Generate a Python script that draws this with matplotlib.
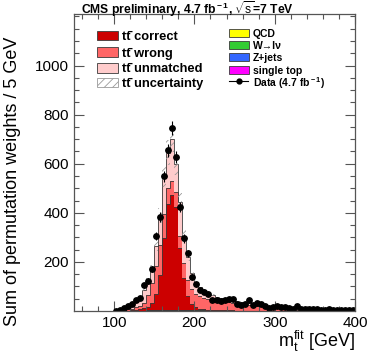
import numpy as np
import matplotlib
matplotlib.use("Agg")
import matplotlib.pyplot as plt
from matplotlib.patches import Rectangle
from matplotlib.lines import Line2D

plt.rcParams['font.family'] = ['Liberation Sans', 'DejaVu Sans']
plt.rcParams['mathtext.fontset'] = 'custom'
plt.rcParams['mathtext.rm'] = 'Liberation Sans'
plt.rcParams['mathtext.it'] = 'Liberation Sans:italic'
plt.rcParams['mathtext.bf'] = 'Liberation Sans:bold'
plt.rcParams['hatch.linewidth'] = 0.6

# 5 GeV bins from 100 to 400 GeV
edges = np.arange(100, 401, 5)

data = [2, 4, 11, 20, 27, 44, 55, 104, 122, 172,
        306, 384, 548, 654, 746, 627, 425, 296, 235, 138,
        108, 86, 79, 68, 46, 43, 42, 45, 48, 50,
        30, 25, 28, 43, 23, 31, 30, 22, 12, 18,
        20, 18, 15, 14, 9, 22, 8, 9, 8, 7,
        7, 6, 5, 7, 5, 4, 6, 4, 3, 4]

tt_correct = [0, 0.5, 1, 1.5, 2, 3, 5, 9, 15, 28,
              65, 140, 290, 430, 466, 420, 250, 130, 55, 25,
              12, 7, 5, 4, 3, 2, 2, 2, 1.5, 1.5,
              1, 1, 1, 1, 1, 1, 0.5, 0.5, 0.5, 0.5,
              0.5, 0.5, 0.5, 0.5, 0.5, 0.5, 0.5, 0.5, 0.5, 0.5,
              0.5, 0.5, 0.5, 0.5, 0.5, 0.5, 0.5, 0.5, 0.5, 0.5]

tt_wrong = [1, 1.5, 3, 4.5, 7, 10, 13, 21, 45, 82,
            115, 125, 100, 64, 56, 60, 50, 60, 65, 61,
            54, 51, 47, 43, 41, 39, 37, 35, 33.5, 31.5,
            30, 28, 26, 24, 22, 20, 18.5, 16.5, 15.5, 13.5,
            11.5, 9.5, 8.5, 7.5, 6.5, 5.5, 4.5, 3.5, 3, 2.5,
            2, 1.5, 1.5, 1, 1, 0.5, 0.5, 0.5, 0.5, 0.5]

tt_unmatched = [1, 2, 4, 8, 13, 21, 34, 55, 60, 60,
                80, 120, 155, 146, 174, 115, 140, 110, 95, 64,
                49, 37, 30, 25, 20, 17, 14, 13, 12, 11,
                10, 9, 8, 8, 7, 7, 7, 7, 6, 6,
                6, 6, 6, 5, 5, 5, 5, 5, 4.5, 5,
                4.5, 4.5, 4, 4, 3.5, 4, 3.5, 3, 3, 2.5]

single_top = [0, 0, 0, 0.5, 0.5, 1, 1, 1.5, 2, 2.5,
              3, 3, 3.5, 3.5, 3.5, 3, 3, 2.5, 2, 1.5,
              1.5, 1, 1, 1, 1, 0.5, 0.5, 0.5, 0.5, 0.5,
              0, 0, 0, 0, 0, 0, 0, 0, 0, 0,
              0, 0, 0, 0, 0, 0, 0, 0, 0, 0,
              0, 0, 0, 0, 0, 0, 0, 0, 0, 0]

z_jets = [0, 0, 0, 0, 0, 0, 0, 0, 0.3, 0.3,
          0.5, 0.5, 0.5, 0.5, 0.5, 0.5, 0.5, 0.5, 0.5, 0.5,
          0.3, 0.3, 0.3, 0, 0, 0, 0, 0, 0, 0,
          0, 0, 0, 0, 0, 0, 0, 0, 0, 0,
          0, 0, 0, 0, 0, 0, 0, 0, 0, 0,
          0, 0, 0, 0, 0, 0, 0, 0, 0, 0]

w_jets = [0, 0, 0, 0, 0, 0.5, 0.5, 0.5, 1, 1,
          1, 1.5, 1.5, 1.5, 2, 2, 2, 2, 2.5, 2.5,
          2, 1.5, 1, 1, 1, 0.5, 0.5, 0.5, 0.5, 0.5,
          0, 0, 0, 0, 0, 0, 0, 0, 0, 0,
          0, 0, 0, 0, 0, 0, 0, 0, 0, 0,
          0, 0, 0, 0, 0, 0, 0, 0, 0, 0]

qcd = [0] * 60

uncertainty = [0.3, 0.5, 1, 1.5, 2, 3, 4, 7, 10, 14,
               21, 31, 44, 51, 56, 48, 35, 24, 17, 12,
               9, 8, 7, 6, 5, 5, 4.5, 4, 4, 3.5,
               3.5, 3, 3, 2.5, 2.5, 2.5, 2, 2, 2, 1.5,
               1.5, 1.5, 1.2, 1.1, 1, 1, 0.8, 0.8, 0.7, 0.7,
               0.6, 0.5, 0.5, 0.5, 0.4, 0.4, 0.4, 0.3, 0.3, 0.3]

c_correct = '#cc0000'
c_wrong = '#ff6666'
c_unmatched = '#ffcccc'
c_qcd = '#ffff00'
c_w = '#33cc33'
c_z = '#3366ff'
c_st = '#ff00ff'
outline = '#3a3a3a'
hatch_col = '#9a9a9a'

W, H = 374, 359
fig = plt.figure(figsize=(W / 100, H / 100), dpi=100)
ax = fig.add_axes([74 / W, 48 / H, 281 / W, 297 / H])

layers = [(single_top, c_st), (z_jets, c_z), (w_jets, c_w), (qcd, c_qcd),
          (tt_correct, c_correct), (tt_wrong, c_wrong), (tt_unmatched, c_unmatched)]
base = np.zeros(len(edges) - 1)
for vals, col in layers:
    top = base + np.asarray(vals, dtype=float)
    ax.stairs(top, edges, baseline=base, fill=True, color=col, lw=0)
    ax.stairs(top, edges, baseline=None, color=outline, lw=0.6)
    base = top

# uncertainty band around the total
unc = np.asarray(uncertainty)
ax.stairs(base + unc, edges, baseline=base - unc, fill=True, facecolor='none',
          edgecolor=hatch_col, hatch='////', lw=0)

# data points
centers = edges[:-1] + 2.5
d = np.asarray(data, dtype=float)
ax.errorbar(centers, d, xerr=2.5, yerr=np.sqrt(d), fmt='o', color='black',
            ms=3.9, lw=0.8, capsize=0)

ax.set_xlim(50, 400)
ax.set_ylim(0, 1210)
ax.set_xticks([100, 200, 300, 400])
ax.set_xticks(np.arange(60, 400, 20), minor=True)
ax.set_yticks([200, 400, 600, 800, 1000])
ax.set_yticks(np.arange(50, 1210, 50), minor=True)
ax.tick_params(which='both', direction='in', top=True, right=True,
               labelsize=11, color='#555555')
ax.tick_params(which='major', length=7, width=0.8)
ax.tick_params(which='minor', length=3.5, width=0.8)
for s in ax.spines.values():
    s.set_color('#555555')
    s.set_linewidth(0.9)

fig.text(13 / W, 1 - 181 / H, 'Sum of permutation weights / 5 GeV',
         rotation=90, ha='center', va='center', fontsize=13)
fig.text(355 / W, 1 - 341 / H, r'm$_{\rm t}^{\rm fit}$ [GeV]',
         ha='right', va='center', fontsize=13)
fig.text(81 / W, 1 - 9 / H, r'CMS preliminary, 4.7 fb$^{\bf -1}$, $\sqrt{\rm s}$=7 TeV',
         ha='left', va='center', fontsize=8.7, weight='bold')

# legend, drawn by hand in figure pixels (top-left origin)
def legend_box(x, y, w, h, **kw):
    fig.add_artist(Rectangle((x / W, 1 - (y + h / 2) / H), w / W, h / H,
                             transform=fig.transFigure, lw=0.6, **kw))

ttbar = 'tt\u0304'
left_rows = [(35.5, dict(facecolor=c_correct, edgecolor=outline), ttbar + ' correct'),
             (52, dict(facecolor=c_wrong, edgecolor=outline), ttbar + ' wrong'),
             (68, dict(facecolor=c_unmatched, edgecolor=outline), ttbar + ' unmatched'),
             (82.5, dict(facecolor='white', edgecolor=hatch_col, hatch='////'), ttbar + ' uncertainty')]
for y, style, label in left_rows:
    legend_box(97, y, 21, 9.5, **style)
    fig.text(122 / W, 1 - y / H, label, ha='left', va='center_baseline',
             fontsize=9.3, weight='bold')

right_rows = [(33.3, c_qcd, 'QCD'), (45.2, c_w, 'W\u2192l\u03bd'),
              (57.2, c_z, 'Z+jets'), (70, c_st, 'single top')]
for y, col, label in right_rows:
    legend_box(228.5, y, 20, 8, facecolor=col, edgecolor=outline)
    fig.text(253 / W, 1 - y / H, label, ha='left', va='center_baseline',
             fontsize=7.5, weight='bold')
fig.add_artist(Line2D([229 / W, 248 / W], [1 - 81 / H, 1 - 81 / H], color='black',
                      lw=0.8, transform=fig.transFigure))
fig.add_artist(Line2D([238.5 / W], [1 - 81 / H], color='black', marker='o', ms=3.5,
                      transform=fig.transFigure))
fig.text(253 / W, 1 - 81 / H, r'Data (4.7 fb$^{\bf -1}$)', ha='left', va='center_baseline',
         fontsize=7.5, weight='bold')

fig.savefig('out.png', dpi=100)
